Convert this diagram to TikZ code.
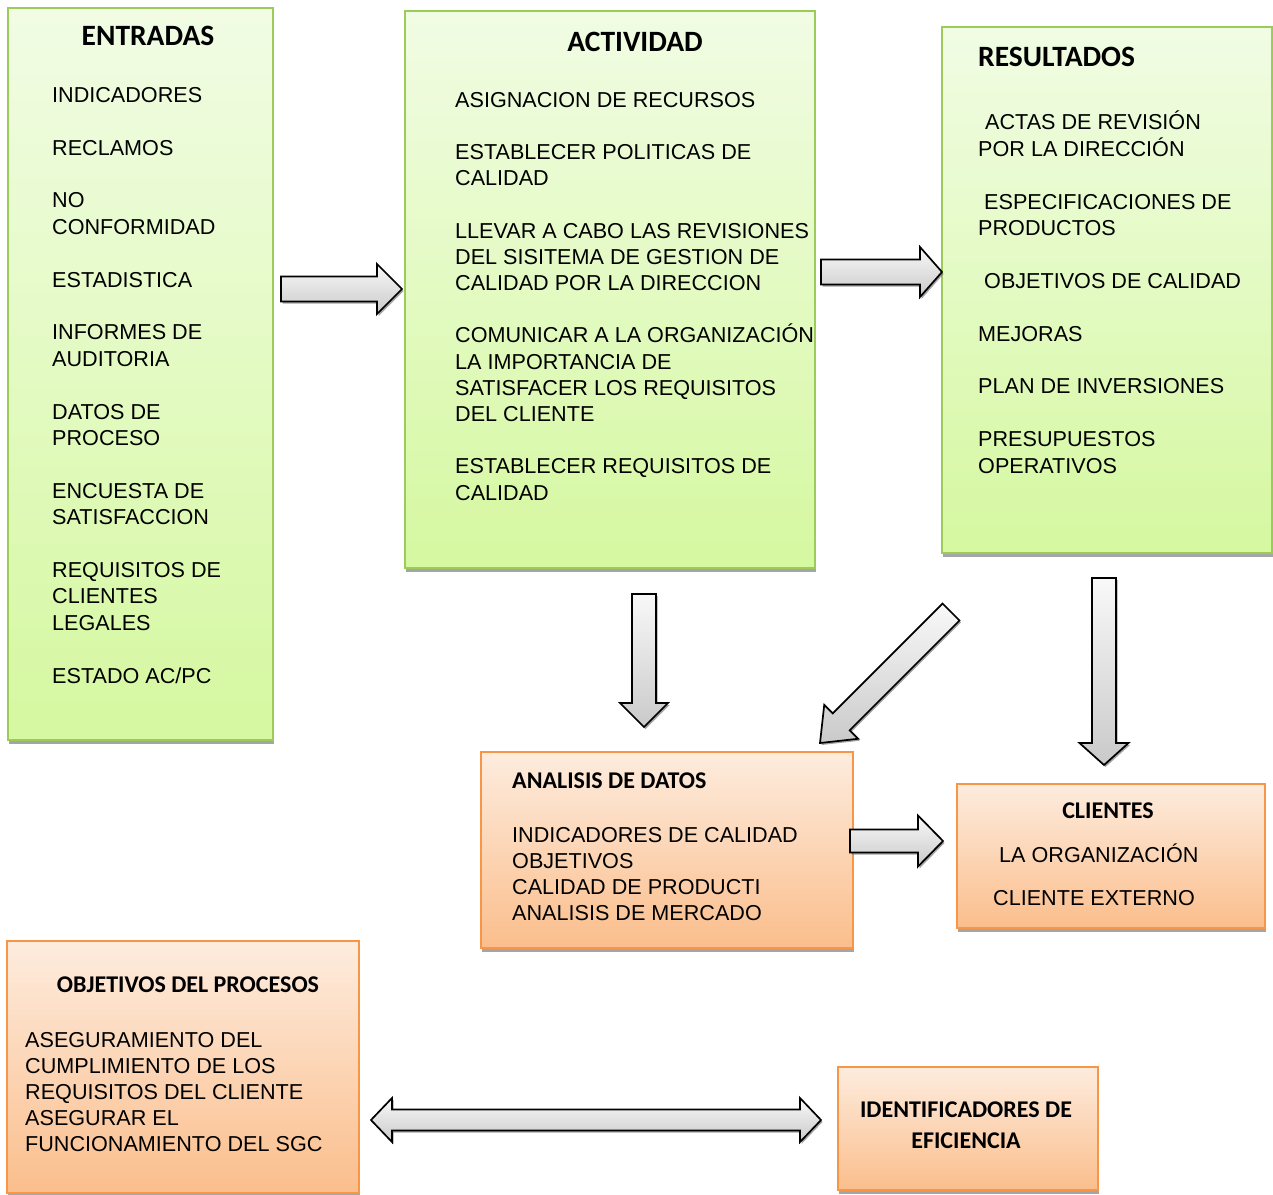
\documentclass[tikz,border=0pt]{standalone}
\usepackage{fontspec}
\setmainfont{Liberation Sans}
\newfontfamily\calib{Carlito}
\usepackage{tikz}
\usetikzlibrary{positioning,calc,shadows}
\definecolor{grnlt}{RGB}{241,252,228}
\definecolor{grndk}{RGB}{213,248,160}
\definecolor{grnln}{RGB}{155,204,90}
\definecolor{orglt}{RGB}{253,236,222}
\definecolor{orgdk}{RGB}{251,190,140}
\definecolor{orgln}{RGB}{247,150,70}
\tikzset{box/.style={draw, line width=1.6pt, inner sep=0pt, outer sep=0pt, anchor=north west, drop shadow={shadow xshift=1.2pt, shadow yshift=-3.5pt, fill=black!50, opacity=.7}}}
\tikzset{gbox/.style={box, draw=grnln, top color=grnlt, bottom color=grndk}}
\tikzset{obox/.style={box, draw=orgln, top color=orglt, bottom color=orgdk}}
\tikzset{ttl/.style={inner sep=0pt, anchor=base, font=\calib\bfseries\fontsize{29.5}{34}\selectfont}}
\tikzset{ttls/.style={inner sep=0pt, anchor=base, align=center, font=\calib\bfseries\fontsize{24}{31}\selectfont}}
% lists are placed by the baseline of their last line
\tikzset{lst/.style={inner sep=0pt, anchor=base west, align=left, font=\fontsize{21.6}{26.4}\selectfont}}
\tikzset{lstn/.style={lst, font=\fontsize{21.6}{25.8}\selectfont}}
\tikzset{barrow/.style={draw=black, line width=1.7pt, line join=miter, top color=gray!5, bottom color=gray!42, drop shadow={shadow xshift=1.5pt, shadow yshift=-2pt, fill=black!60, opacity=.6}}}
\newcommand{\sk}{26.4pt}
% block arrow: tail, tip, half shaft, half head, head length
\newcommand{\blockarrow}[5]{%
  \coordinate (hb) at ($(#2)!#5!(#1)$);
  \draw[barrow] ($(#1)!#3!90:(#2)$) -- ($(hb)!#3!90:(#2)$) -- ($(hb)!#4!90:(#2)$) -- (#2)
    -- ($(hb)!#4!-90:(#2)$) -- ($(hb)!#3!-90:(#2)$) -- ($(#1)!#3!-90:(#2)$) -- cycle;}
% same with a head on both ends
\newcommand{\doublearrow}[5]{%
  \coordinate (ha) at ($(#1)!#5!(#2)$);
  \coordinate (hb) at ($(#2)!#5!(#1)$);
  \draw[barrow] (#1) -- ($(ha)!#4!90:(#2)$) -- ($(ha)!#3!90:(#2)$) -- ($(hb)!#3!90:(#2)$)
    -- ($(hb)!#4!90:(#2)$) -- (#2) -- ($(hb)!#4!-90:(#2)$) -- ($(hb)!#3!-90:(#2)$)
    -- ($(ha)!#3!-90:(#2)$) -- ($(ha)!#4!-90:(#2)$) -- cycle;}

\begin{document}
\begin{tikzpicture}[x=1pt, y=-1pt]
  \fill[white, use as bounding box] (0,0) rectangle (1273,1194);
  % boxes
  \node[gbox, minimum width=265pt, minimum height=732pt] (ent) at (8,8) {};
  \node[gbox, minimum width=410pt, minimum height=557pt] (act) at (405,11) {};
  \node[gbox, minimum width=330pt, minimum height=526pt] (res) at (942,27) {};
  \node[obox, minimum width=372pt, minimum height=196pt] (ana) at (481,752) {};
  \node[obox, minimum width=308pt, minimum height=144pt] (cli) at (957,784) {};
  \node[obox, minimum width=352pt, minimum height=252pt] (obj) at (7,941) {};
  \node[obox, minimum width=260pt, minimum height=123pt] (ide) at (838,1067) {};
%
  \node[ttl] (ent-t) at (148,45) {ENTRADAS};
  \node[lst] (ent-l) at (52,683) {INDICADORES\\[\sk]RECLAMOS\\[\sk]NO\\CONFORMIDAD\\[\sk]ESTADISTICA\\[\sk]%
    INFORMES DE\\AUDITORIA\\[\sk]DATOS DE\\PROCESO\\[\sk]ENCUESTA DE\\SATISFACCION\\[\sk]%
    REQUISITOS DE\\CLIENTES\\LEGALES\\[\sk]ESTADO AC/PC};
  \node[ttl] (act-t) at (635,51) {ACTIVIDAD};
  \node[lst, font=\fontsize{21.6}{26.2}\selectfont] (act-l) at (455,500) {ASIGNACION DE RECURSOS\\[26.2pt]%
    ESTABLECER POLITICAS DE\\CALIDAD\\[26.2pt]%
    LLEVAR A CABO LAS REVISIONES\\DEL SISITEMA DE GESTION DE\\CALIDAD POR LA DIRECCION\\[26.2pt]%
    COMUNICAR A LA ORGANIZACIÓN\\LA IMPORTANCIA DE\\SATISFACER LOS REQUISITOS\\DEL CLIENTE\\[26.2pt]%
    ESTABLECER REQUISITOS DE\\CALIDAD};
  \node[ttl, anchor=base west] (res-t) at (978,66) {RESULTADOS};
  \node[lst] (res-l) at (978,473) {\hspace{7pt}ACTAS DE REVISIÓN\\POR LA DIRECCIÓN\\[\sk]%
    \hspace{6pt}ESPECIFICACIONES DE\\PRODUCTOS\\[\sk]\hspace{6pt}OBJETIVOS DE CALIDAD\\[\sk]%
    MEJORAS\\[\sk]PLAN DE INVERSIONES\\[\sk]PRESUPUESTOS\\OPERATIVOS};
  \node[ttls, anchor=base west] (ana-t) at (512,788) {ANALISIS DE DATOS};
  \node[lstn] (ana-l) at (512,920) {INDICADORES DE CALIDAD\\OBJETIVOS\\CALIDAD DE PRODUCTI\\ANALISIS DE MERCADO};
  \node[ttls] (cli-t) at (1108,818) {CLIENTES};
  \node[lst] (cli-a) at (999,862) {LA ORGANIZACIÓN};
  \node[lst] (cli-b) at (993,905) {CLIENTE EXTERNO};
  \node[ttls] (obj-t) at (188,992) {OBJETIVOS DEL PROCESOS};
  \node[lstn] (obj-l) at (25,1151) {ASEGURAMIENTO DEL\\CUMPLIMIENTO DE LOS\\REQUISITOS DEL CLIENTE\\%
    ASEGURAR EL\\FUNCIONAMIENTO DEL SGC};
  \node[ttls] (ide-t) at (966,1148) {IDENTIFICADORES DE\\EFICIENCIA};
%
  % arrow ends
  \coordinate (a1) at (281,289);  \coordinate (b1) at (402,289);
  \coordinate (a2) at (821,272);  \coordinate (b2) at (942,272);
  \coordinate (a3) at (644,594);  \coordinate (b3) at (644,727);
  \coordinate (a4) at (951,612);  \coordinate (b4) at (820,743);
  \coordinate (a5) at (1104,578); \coordinate (b5) at (1104,765);
  \coordinate (a6) at (850,841);  \coordinate (b6) at (943,841);
  \coordinate (d1) at (371,1120); \coordinate (d2) at (821,1120);
  \blockarrow{a1}{b1}{12.5pt}{25pt}{25pt}
  \blockarrow{a2}{b2}{12.5pt}{25pt}{22pt}
  \blockarrow{a3}{b3}{12pt}{24pt}{24pt}
  \blockarrow{a4}{b4}{12pt}{24pt}{30pt}
  \blockarrow{a5}{b5}{12pt}{24.5pt}{22pt}
  \blockarrow{a6}{b6}{11.5pt}{25.5pt}{25pt}
  \doublearrow{d1}{d2}{10.5pt}{22pt}{21pt}
\end{tikzpicture}
\end{document}
